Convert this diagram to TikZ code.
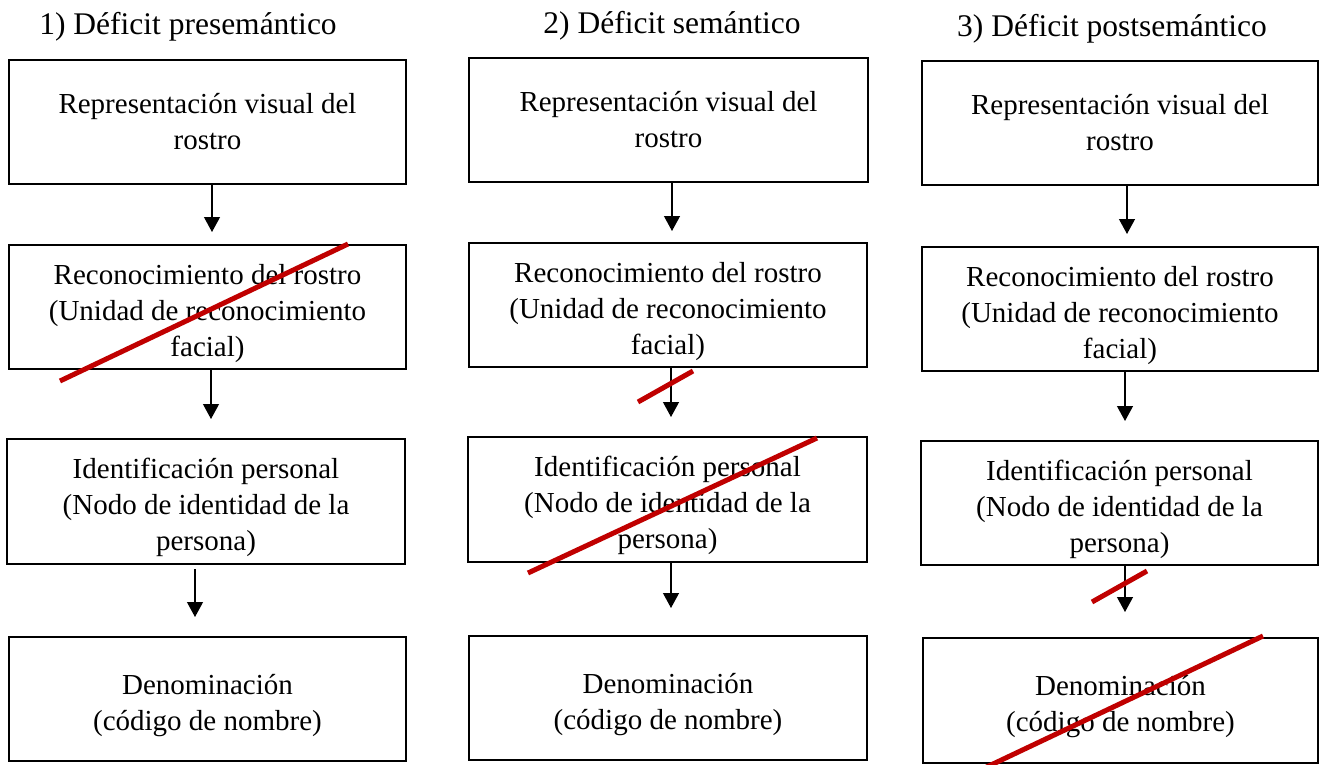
\documentclass[tikz,border=0pt]{standalone}
\usepackage{fontspec}
\setmainfont{Liberation Serif}
\usetikzlibrary{arrows.meta}
\definecolor{strike}{RGB}{192,0,0}
\begin{document}
\begin{tikzpicture}[x=1pt,y=-1pt,
  stage/.style={draw=black, line width=2pt, inner sep=0pt, align=center,
    font=\fontsize{29}{36}\selectfont, minimum height=124pt},
  low three/.style={text height=105pt},
  low two/.style={text height=69pt},
  heading/.style={anchor=base, inner sep=0pt, font=\fontsize{31.5}{38}\selectfont},
  flow/.style={line width=1.2pt, -{Triangle[width=16pt,length=15pt]}},
  cross/.style={draw=strike, line width=5pt}]
\fill[white] (0,0) rectangle (1320,765);
\useasboundingbox (0,0) rectangle (1320,765);

% column headings
\node[heading] (h1) at (188,35) {1) Déficit presemántico};
\node[heading] (h2) at (672,34) {2) Déficit semántico};
\node[heading] (h3) at (1112,37) {3) Déficit postsemántico};

% column 1
\node[stage, minimum width=397pt] (p1) at (207.5,122) {Representación visual del\\rostro};
\node[stage, low three, minimum width=397pt] (p2) at (207.5,307) {Reconocimiento del rostro\\(Unidad de reconocimiento\\facial)};
\node[stage, low three, minimum width=398pt, minimum height=125pt] (p3) at (206,501.5) {Identificación personal\\(Nodo de identidad de la\\persona)};
\node[stage, low two, minimum width=397pt] (p4) at (207.5,699) {Denominación\\(código de nombre)};

% column 2
\node[stage, minimum width=399pt] (q1) at (668.5,120) {Representación visual del\\rostro};
\node[stage, low three, minimum width=398pt] (q2) at (668,305) {Reconocimiento del rostro\\(Unidad de reconocimiento\\facial)};
\node[stage, low three, minimum width=399pt, minimum height=125pt] (q3) at (667.5,499.5) {Identificación personal\\(Nodo de identidad de la\\persona)};
\node[stage, low two, minimum width=398pt] (q4) at (668,698) {Denominación\\(código de nombre)};

% column 3
\node[stage, minimum width=396pt] (r1) at (1120,123) {Representación visual del\\rostro};
\node[stage, low three, minimum width=396pt] (r2) at (1120,309) {Reconocimiento del rostro\\(Unidad de reconocimiento\\facial)};
\node[stage, low three, minimum width=397pt] (r3) at (1119.5,503) {Identificación personal\\(Nodo de identidad de la\\persona)};
\node[stage, low two, minimum width=395pt, minimum height=125pt] (r4) at (1120.5,700.5) {Denominación\\(código de nombre)};

% processing flow
\draw[flow] ([xshift=4.5pt]p1.south) -- ([xshift=4.5pt,yshift=12pt]p2.north);
\draw[flow] ([xshift=3.5pt]p2.south) -- ([xshift=5pt,yshift=19pt]p3.north);
\draw[flow] ([xshift=-11pt,yshift=-4pt]p3.south) -- ([xshift=-12.5pt,yshift=19pt]p4.north);

\draw[flow] ([xshift=3.5pt]q1.south) -- ([xshift=4pt,yshift=11pt]q2.north);
\draw[flow] ([xshift=3pt]q2.south) -- ([xshift=3.5pt,yshift=19pt]q3.north);
\draw[flow] ([xshift=3.5pt]q3.south) -- ([xshift=3pt,yshift=27pt]q4.north);

\draw[flow] ([xshift=7pt]r1.south) -- ([xshift=7pt,yshift=12pt]r2.north);
\draw[flow] ([xshift=5pt]r2.south) -- ([xshift=5.5pt,yshift=19pt]r3.north);
\draw[flow] ([xshift=5.5pt]r3.south) -- ([xshift=4.5pt,yshift=25pt]r4.north);

% strike-through marks for the impaired stages
\draw[cross] (60,381) -- (348,244);
\draw[cross] (638,402) -- (693,371);
\draw[cross] (528,573) -- (817,438);
\draw[cross] (1092,602) -- (1147,571);
\draw[cross] (974,773) -- (1263,636);
\end{tikzpicture}
\end{document}
